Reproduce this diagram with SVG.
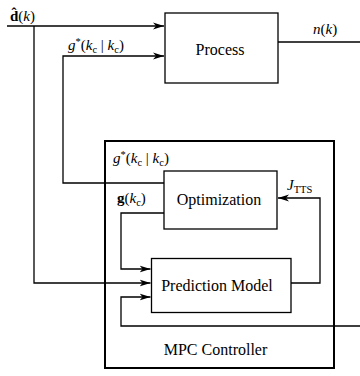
<svg xmlns="http://www.w3.org/2000/svg" width="360" height="376" viewBox="0 0 360 376">
<style>
.box{fill:#fff;stroke:#000;stroke-width:1.3}
.mpc{fill:none;stroke:#000;stroke-width:2}
.ln{fill:none;stroke:#000;stroke-width:1.3}
.lbl{font-size:16px}
.math{font-size:15px}
.it{font-style:italic}
.sub{font-size:10.5px}
</style>
<defs>
<marker id="arr" markerUnits="userSpaceOnUse" markerWidth="12" markerHeight="8" refX="11" refY="4" orient="auto">
<path d="M0,0.5 L11,4 L0,7.5 L3,4 Z" fill="#000"/>
</marker>
</defs>
<rect width="360" height="376" fill="#fff"/>
<g font-family="'Liberation Serif', 'DejaVu Serif', serif" fill="#000">
<g id="mpc">
<rect class="mpc" x="105" y="141" width="229" height="227"/>
<text class="lbl" x="215.5" y="355" text-anchor="middle">MPC Controller</text>
</g>
<g id="connectors">
<path class="ln" d="M7,26 H164" marker-end="url(#arr)"/>
<path class="ln" d="M34,26 V283 H150.5" marker-end="url(#arr)"/>
<path class="ln" d="M164,183 H63 V56 H164" marker-end="url(#arr)"/>
<path class="ln" d="M164,213 H121 V269 H150.5" marker-end="url(#arr)"/>
<path class="ln" d="M278,42 H360"/>
<path class="ln" d="M360,326 H121 V297 H150.5" marker-end="url(#arr)"/>
<path class="ln" d="M291,283 H320 V198 H278" marker-end="url(#arr)"/>
</g>
<g id="process">
<rect class="box" x="165" y="13" width="113" height="70"/>
<text class="lbl" x="220" y="55" text-anchor="middle">Process</text>
</g>
<g id="optimization">
<rect class="box" x="164" y="171" width="113" height="58"/>
<text class="lbl" x="219" y="205" text-anchor="middle">Optimization</text>
</g>
<g id="prediction">
<rect class="box" x="151.5" y="258.5" width="139.5" height="54"/>
<text class="lbl" x="217" y="291" text-anchor="middle">Prediction Model</text>
</g>
<g id="labels">
<text class="math" x="10" y="21"><tspan font-weight="bold">d̂</tspan>(<tspan class="it">k</tspan>)</text>
<text class="math" x="68" y="50"><tspan class="it">g</tspan><tspan class="sub" dy="-5">*</tspan><tspan dy="5">(</tspan><tspan class="it">k</tspan><tspan class="sub" dy="3">c</tspan><tspan dy="-3"> | </tspan><tspan class="it">k</tspan><tspan class="sub" dy="3">c</tspan><tspan dy="-3">)</tspan></text>
<text class="math" x="113" y="163"><tspan class="it">g</tspan><tspan class="sub" dy="-5">*</tspan><tspan dy="5">(</tspan><tspan class="it">k</tspan><tspan class="sub" dy="3">c</tspan><tspan dy="-3"> | </tspan><tspan class="it">k</tspan><tspan class="sub" dy="3">c</tspan><tspan dy="-3">)</tspan></text>
<text class="math" x="117" y="203"><tspan font-weight="bold">g</tspan>(<tspan class="it">k</tspan><tspan class="sub" dy="3">c</tspan><tspan dy="-3">)</tspan></text>
<text class="math" x="313" y="34"><tspan class="it">n</tspan>(<tspan class="it">k</tspan>)</text>
<text class="math" x="287" y="190"><tspan class="it">J</tspan><tspan class="sub" dy="3">TTS</tspan></text>
</g>
</g>
</svg>
